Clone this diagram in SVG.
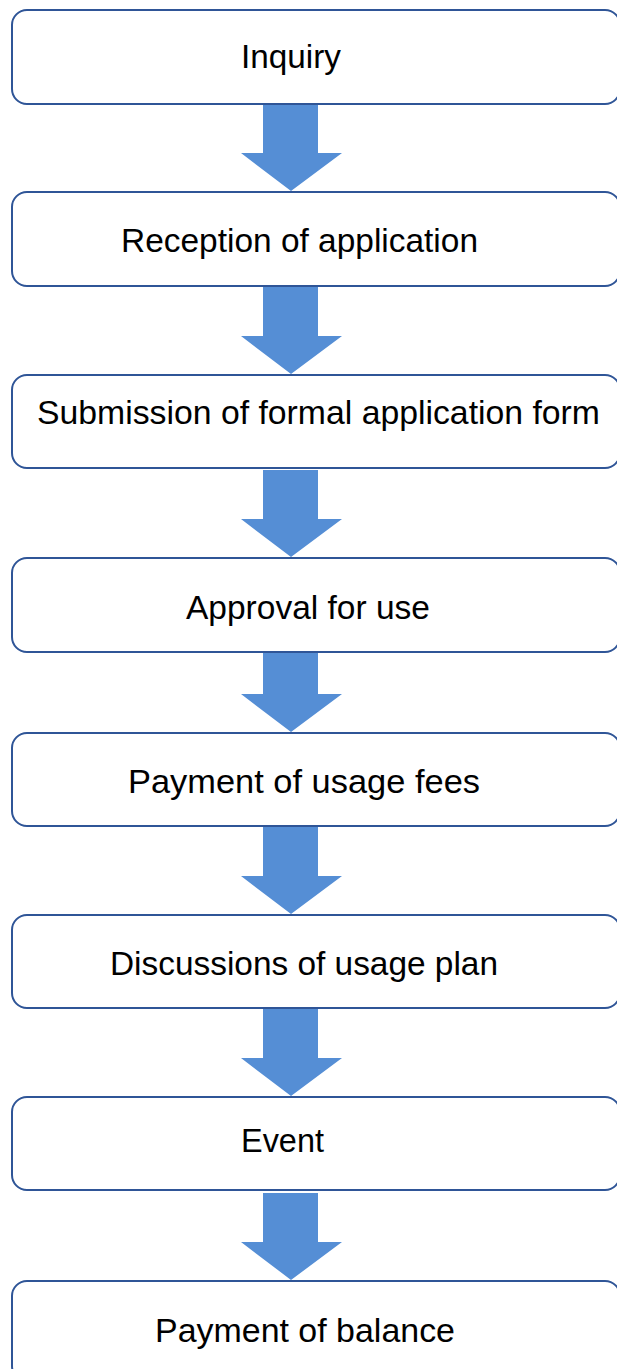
<svg xmlns="http://www.w3.org/2000/svg" width="617" height="1369" viewBox="0 0 617 1369">
  <defs>
    <style>
      .box { fill: #ffffff; stroke: #2f5597; stroke-width: 2; }
      .lbl { font-family: "Liberation Sans", Arial, sans-serif; font-size: 34px; fill: #000000; text-anchor: middle; }
      .arrow { fill: #558ed5; stroke: none; }
    </style>
    <!-- block arrow pointing down, tip at origin -->
    <polygon id="downArrow" class="arrow" points="-28,-87 27,-87 27,-38 51,-38 0,0 -50,-38 -28,-38"/>
  </defs>
  <rect width="617" height="1369" fill="#ffffff"/>

  <g id="connectors">
    <use href="#downArrow" x="291" y="191"/>
    <use href="#downArrow" x="291" y="374"/>
    <use href="#downArrow" x="291" y="557"/>
    <use href="#downArrow" x="291" y="732"/>
    <use href="#downArrow" x="291" y="914"/>
    <use href="#downArrow" x="291" y="1096"/>
    <use href="#downArrow" x="291" y="1280"/>
  </g>

  <g id="step-inquiry">
    <rect class="box" x="12" y="10" width="608" height="94" rx="15"/>
    <text class="lbl" x="291" y="68" textLength="100" lengthAdjust="spacingAndGlyphs">Inquiry</text>
  </g>
  <g id="step-reception">
    <rect class="box" x="12" y="192" width="608" height="94" rx="15"/>
    <text class="lbl" x="299.5" y="252" textLength="357" lengthAdjust="spacingAndGlyphs">Reception of application</text>
  </g>
  <g id="step-submission">
    <rect class="box" x="12" y="375" width="608" height="93" rx="15"/>
    <text class="lbl" x="318.5" y="424" textLength="563" lengthAdjust="spacingAndGlyphs">Submission of formal application form</text>
  </g>
  <g id="step-approval">
    <rect class="box" x="12" y="558" width="608" height="94" rx="15"/>
    <text class="lbl" x="308" y="619" textLength="244" lengthAdjust="spacingAndGlyphs">Approval for use</text>
  </g>
  <g id="step-usage-fees">
    <rect class="box" x="12" y="733" width="608" height="93" rx="15"/>
    <text class="lbl" x="304" y="793" textLength="352" lengthAdjust="spacingAndGlyphs">Payment of usage fees</text>
  </g>
  <g id="step-usage-plan">
    <rect class="box" x="12" y="915" width="608" height="93" rx="15"/>
    <text class="lbl" x="304" y="975" textLength="388" lengthAdjust="spacingAndGlyphs">Discussions of usage plan</text>
  </g>
  <g id="step-event">
    <rect class="box" x="12" y="1097" width="608" height="93" rx="15"/>
    <text class="lbl" x="282.5" y="1152" textLength="83" lengthAdjust="spacingAndGlyphs">Event</text>
  </g>
  <g id="step-balance">
    <rect class="box" x="12" y="1281" width="608" height="100" rx="15"/>
    <text class="lbl" x="305" y="1342" textLength="300" lengthAdjust="spacingAndGlyphs">Payment of balance</text>
  </g>
</svg>
